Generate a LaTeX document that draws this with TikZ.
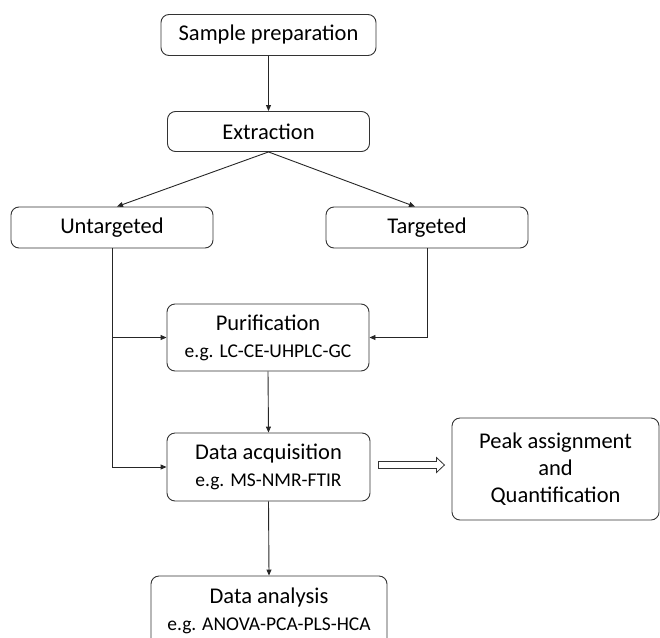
\documentclass[tikz,border=0pt]{standalone}
\usepackage{fontspec}
\setmainfont{Carlito}
\usetikzlibrary{arrows.meta,calc}
\newcommand{\mainsz}{\fontsize{22.5}{27}\selectfont}
\newcommand{\subsz}{\fontsize{19.5}{27}\selectfont}
\begin{document}
\begin{tikzpicture}[x=1pt,y=-1pt,
  box/.style={draw=black!80, line width=0.9pt, rounded corners=8pt, inner sep=0pt,
    align=center, font=\mainsz, text=black},
  conn/.style={draw=black!85, line width=0.9pt, -{Triangle[length=6pt,width=5pt]}},
  plain/.style={draw=black!80, line width=0.8pt}]
\useasboundingbox (0,0) rectangle (660,637);
\node[box, minimum width=215pt, minimum height=41pt] (sp) at (268.5,35) {Sample preparation};
\node[box, minimum width=202pt, minimum height=40pt] (ex) at (268.5,131.5) {Extraction};
\node[box, minimum width=202pt, minimum height=41pt] (un) at (112,227.5) {Untargeted};
\node[box, minimum width=202pt, minimum height=41pt] (ta) at (427,227.5) {Targeted};
\node[box, minimum width=202pt, minimum height=67pt] (pu) at (268,337.5) {Purification\\{\subsz e.g. LC-CE-UHPLC-GC}};
\node[box, minimum width=203pt, minimum height=68pt] (da) at (268.5,467) {Data acquisition\\{\subsz e.g. MS-NMR-FTIR}};
\node[box, minimum width=207pt, minimum height=102pt] (pk) at (555.5,469) {Peak assignment\\and\\Quantification};
\node[box, minimum width=236pt, minimum height=70pt] (an) at (269,611) {Data analysis\\{\subsz e.g. ANOVA-PCA-PLS-HCA}};
\coordinate (unl) at (un.south |- pu.west);
\draw[conn] (sp.south) -- (ex.north);
\draw[conn] (ex.south) -- ($(un.north)+(5,0)$);
\draw[conn] (ex.south) -- ($(ta.north)+(-12,0)$);
\draw[conn] (un.south) |- (da.west);
\draw[conn] (unl) -- (pu.west);
\draw[conn] (ta.south) |- (pu.east);
\draw[conn] (pu.south) -- (da.north);
\draw[conn] (da.south) -- (an.north);
\coordinate (ha) at ($(da.east)+(8,-2)$);
\draw[plain] (ha) ++(0,-3.5) -- ++(58,0) -- ++(0,-4) -- ++(8,7.5) -- ++(-8,7.5) -- ++(0,-4) -- ++(-58,0) -- cycle;
\end{tikzpicture}
\end{document}
